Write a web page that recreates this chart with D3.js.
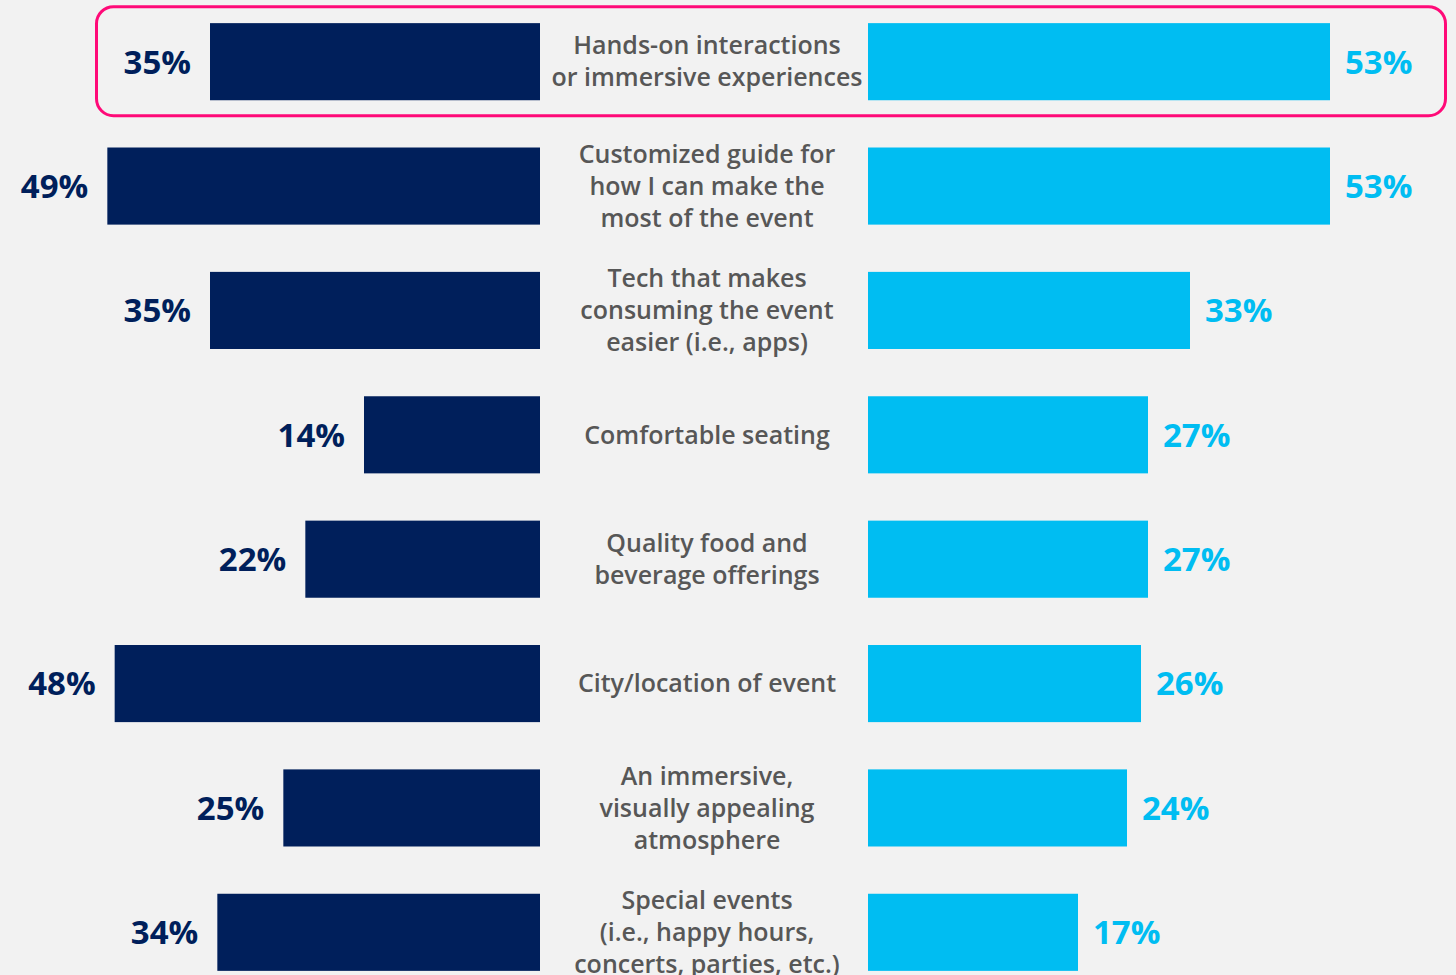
<!DOCTYPE html>
<html>
<head>
<meta charset="utf-8">
<script src="https://cdn.jsdelivr.net/npm/d3@7"></script>
<style>
  html, body { margin: 0; padding: 0; background: #f2f2f2; }
  svg { display: block; }
</style>
</head>
<body>
<svg id="chart" width="1456" height="975"></svg>
<script>
const categories = [
  ["Hands-on interactions", "or immersive experiences"],
  ["Customized guide for", "how I can make the", "most of the event"],
  ["Tech that makes", "consuming the event", "easier (i.e., apps)"],
  ["Comfortable seating"],
  ["Quality food and", "beverage offerings"],
  ["City/location of event"],
  ["An immersive,", "visually appealing", "atmosphere"],
  ["Special events", "(i.e., happy hours,", "concerts, parties, etc.)"]
];
const leftValues = [35, 49, 35, 14, 22, 48, 25, 34];
const rightValues = [53, 53, 33, 27, 27, 26, 24, 17];
const highlighted = [0];

const navy = "#001f5b";
const cyan = "#00bdf2";
const pink = "#ff0a78";
const grey = "#575757";
const font = "'Open Sans', 'Noto Sans', sans-serif";

const svg = d3.select("#chart");

const leftEdge = 540;   // right end of left bars
const rightEdge = 868;  // left end of right bars
const labelX = 707;

const wl = d3.scaleLinear().domain([-10, 50]).range([0, 440]);
const wr = d3.scaleLinear().domain([-13, 53]).range([0, 462]);
const y = d3.scaleBand()
  .domain(d3.range(categories.length))
  .range([-0.5, 994.5])
  .paddingInner(0.38)
  .paddingOuter(0.19);

const rows = d3.range(categories.length).map(i => ({
  i, cat: categories[i], l: leftValues[i], r: rightValues[i]
}));

// highlight frame
svg.selectAll("rect.hl").data(highlighted).join("rect")
  .attr("class", "hl")
  .attr("x", 96.5)
  .attr("y", d => y(d) + y.bandwidth() / 2 - 55)
  .attr("width", 1349)
  .attr("height", 109)
  .attr("rx", 17)
  .attr("fill", "none")
  .attr("stroke", pink)
  .attr("stroke-width", 3);

const g = svg.selectAll("g.row").data(rows).join("g").attr("class", "row");

g.append("rect")
  .attr("x", d => leftEdge - wl(d.l))
  .attr("y", d => y(d.i))
  .attr("width", d => wl(d.l))
  .attr("height", y.bandwidth())
  .attr("fill", navy);

g.append("rect")
  .attr("x", rightEdge)
  .attr("y", d => y(d.i))
  .attr("width", d => wr(d.r))
  .attr("height", y.bandwidth())
  .attr("fill", cyan);

g.append("text")
  .attr("x", d => leftEdge - wl(d.l) - 19)
  .attr("y", d => y(d.i) + y.bandwidth() / 2)
  .attr("dy", "0.36em")
  .attr("text-anchor", "end")
  .attr("font-family", font)
  .attr("font-weight", 700)
  .attr("font-size", 33)
  .attr("fill", navy)
  .text(d => d.l + "%");

g.append("text")
  .attr("x", d => rightEdge + wr(d.r) + 15)
  .attr("y", d => y(d.i) + y.bandwidth() / 2)
  .attr("dy", "0.36em")
  .attr("text-anchor", "start")
  .attr("font-family", font)
  .attr("font-weight", 700)
  .attr("font-size", 33)
  .attr("fill", cyan)
  .text(d => d.r + "%");

const lineH = 32;
g.append("text")
  .attr("text-anchor", "middle")
  .attr("font-family", font)
  .attr("font-weight", 600)
  .attr("font-size", 25)
  .attr("fill", grey)
  .each(function(d) {
    const t = d3.select(this);
    const n = d.cat.length;
    const cy = y(d.i) + y.bandwidth() / 2;
    d.cat.forEach((line, k) => {
      t.append("tspan")
        .attr("x", labelX)
        .attr("y", cy + (k - (n - 1) / 2) * lineH)
        .attr("dy", "0.35em")
        .text(line);
    });
  });
</script>
</body>
</html>
